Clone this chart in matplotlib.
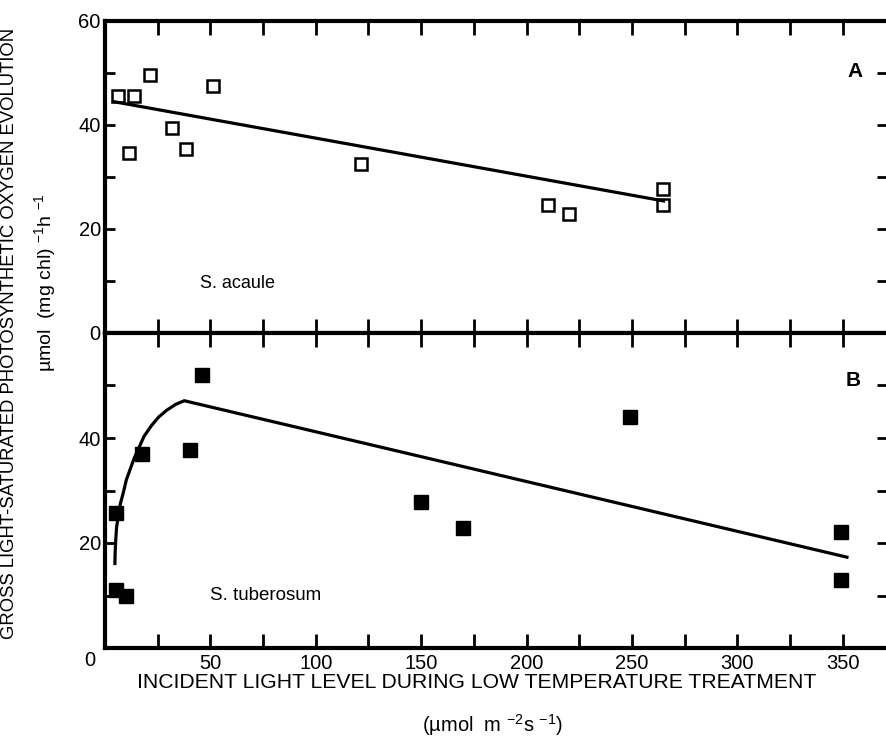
import numpy as np
import matplotlib
matplotlib.use('Agg')
import matplotlib.pyplot as plt
from matplotlib.ticker import MultipleLocator

plt.rcParams['font.family'] = ['Liberation Sans', 'DejaVu Sans']
plt.rcParams['mathtext.fontset'] = 'custom'
plt.rcParams['mathtext.rm'] = 'Liberation Sans'
plt.rcParams['mathtext.default'] = 'regular'

# === Panel A: S. acaule (open squares) ===
acaule_x = [6.3, 13.8, 21.4, 11.2, 31.7, 38.4, 51.1, 121.5, 210.4, 219.9, 264.7, 264.7]
acaule_y = [45.6, 45.6, 49.6, 34.7, 39.5, 35.4, 47.5, 32.5, 24.6, 22.8, 27.6, 24.6]
acaule_fit_x = [4, 265]
acaule_fit_y = [44.5, 25.4]

# === Panel B: S. tuberosum (filled squares) ===
tuber_x = [5.1, 5.1, 10.0, 17.6, 40.2, 45.9, 150.1, 169.8, 249.2, 349.3, 349.3]
tuber_y = [25.8, 11.0, 9.9, 36.9, 37.8, 52.0, 27.9, 22.9, 44.0, 22.1, 12.9]
# fitted curve
tuber_fit_x = [4.7, 4.8, 5.1, 5.5, 6.3, 7.3, 8.7, 10.1, 11.9, 13.7, 15.8,
               18.5, 22.1, 25.5, 29.3, 33.5, 37.6, 352]
tuber_fit_y = [16.1, 18.0, 20.6, 23.0, 25.1, 27.5, 29.6, 32.0, 34.0, 36.0, 37.9,
               40.3, 42.4, 44.0, 45.3, 46.4, 47.1, 17.3]

x_ticks = [50, 100, 150, 200, 250, 300, 350]

W, H = 887, 738
fig = plt.figure(figsize=(W / 100, H / 100), dpi=100)

left, right = 105 / W, 887 / W
axA = fig.add_axes([left, 1 - 333 / H, right - left, 312 / H])
axB = fig.add_axes([left, 1 - 648 / H, right - left, 315 / H])

for ax in (axA, axB):
    ax.set_xlim(0, 371)
    ax.set_ylim(0, 60)
    for s in ('left', 'top', 'bottom'):
        ax.spines[s].set_linewidth(3)
    ax.spines['right'].set_visible(False)
    ax.xaxis.set_major_locator(MultipleLocator(25))
    ax.yaxis.set_major_locator(MultipleLocator(20))
    ax.yaxis.set_minor_locator(MultipleLocator(10))
    ax.tick_params(axis='x', which='major', direction='in', length=10, width=2,
                   top=True, bottom=True, labelsize=14.5, pad=4)
    ax.tick_params(axis='y', which='both', direction='in', length=7, width=2,
                   left=True, right=True, labelsize=14.5, pad=3)

# panel A
axA.plot(acaule_x, acaule_y, 's', mfc='white', mec='black', mew=1.8, ms=8.5)
axA.plot(acaule_fit_x, acaule_fit_y, '-', color='black', lw=2.3)
axA.set_yticks([0, 20, 40, 60])
axA.set_yticklabels(['0', '20', '40', '60'])
axA.tick_params(axis='x', labelbottom=False)
axA.text(45, 9.6, 'S. acaule', fontsize=13, va='center', ha='left')
axA.text(356, 50.2, 'A', fontsize=15, fontweight='bold', va='center', ha='center')

# panel B
axB.plot(tuber_x, tuber_y, 's', color='black', ms=9.5)
axB.plot(tuber_fit_x, tuber_fit_y, '-', color='black', lw=2.3, solid_joinstyle='round')
axB.set_yticks([20, 40])
axB.xaxis.set_minor_locator(MultipleLocator(25))
axB.tick_params(axis='x', which='minor', direction='in', length=10, width=2,
                top=True, bottom=True)
axB.set_xticks(x_ticks)
axB.set_xticklabels([str(v) for v in x_ticks])
axB.text(50, 10, 'S. tuberosum', fontsize=13.5, va='center', ha='left')
axB.text(355, 51, 'B', fontsize=15, fontweight='bold', va='center', ha='center')

# lone "0" at the origin corner
fig.text(90 / W, 1 - 661 / H, '0', fontsize=14.5, ha='center', va='center')

# axis labels
fig.text(477 / W, 1 - 682 / H, 'INCIDENT LIGHT LEVEL DURING LOW TEMPERATURE TREATMENT',
         fontsize=15.2, ha='center', va='center')
fig.text(492 / W, 1 - 725 / H, r'(µmol  m $^{-2}$s $^{-1}$)',
         fontsize=14.5, ha='center', va='center')
fig.text(10 / W, 1 - 333 / H, 'GROSS LIGHT-SATURATED PHOTOSYNTHETIC OXYGEN EVOLUTION',
         fontsize=13.3, rotation=90, ha='center', va='center')
fig.text(45 / W, 1 - 283 / H, r'µmol  (mg chl) $^{-1}$h $^{-1}$',
         fontsize=14, rotation=90, ha='center', va='center')

fig.savefig('out.png', dpi=100)
